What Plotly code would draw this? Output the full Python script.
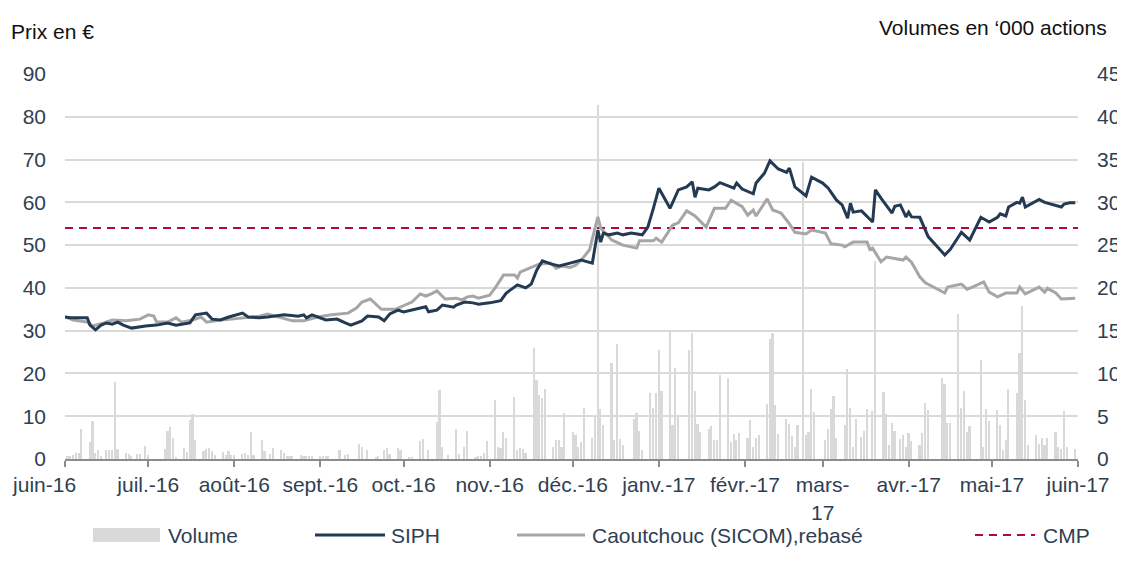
import plotly.graph_objects as go

# ---------------- data ----------------
siph_dates = [
    "2016-06-01","2016-06-03","2016-06-09","2016-06-10","2016-06-12","2016-06-14","2016-06-16","2016-06-18",
    "2016-06-20","2016-06-22","2016-06-25","2016-06-30","2016-07-04","2016-07-08","2016-07-11","2016-07-16",
    "2016-07-18","2016-07-22","2016-07-24","2016-07-27","2016-07-30","2016-08-04","2016-08-06","2016-08-10",
    "2016-08-13","2016-08-19","2016-08-24","2016-08-26","2016-08-27","2016-08-29","2016-09-03","2016-09-07",
    "2016-09-10","2016-09-12","2016-09-16","2016-09-18","2016-09-22","2016-09-24","2016-09-26","2016-09-29",
    "2016-10-01","2016-10-04","2016-10-07","2016-10-09","2016-10-10","2016-10-13","2016-10-15","2016-10-19",
    "2016-10-20","2016-10-23","2016-10-26","2016-10-28","2016-11-01","2016-11-05","2016-11-07","2016-11-11",
    "2016-11-14","2016-11-16","2016-11-18","2016-11-20","2016-11-23","2016-11-26","2016-11-30","2016-12-02",
    "2016-12-04","2016-12-08","2016-12-09","2016-12-10","2016-12-11","2016-12-12","2016-12-14","2016-12-17",
    "2016-12-19","2016-12-22","2016-12-26","2016-12-28","2016-12-30","2017-01-01","2017-01-05","2017-01-06",
    "2017-01-08","2017-01-11","2017-01-13","2017-01-14","2017-01-15","2017-01-19","2017-01-21","2017-01-23",
    "2017-01-28","2017-01-29","2017-01-31","2017-02-04","2017-02-05","2017-02-08","2017-02-10","2017-02-13",
    "2017-02-16","2017-02-17","2017-02-19","2017-02-23","2017-02-25","2017-03-01","2017-03-03","2017-03-06",
    "2017-03-08","2017-03-10","2017-03-11","2017-03-12","2017-03-15","2017-03-19","2017-03-20","2017-03-22",
    "2017-03-26","2017-03-27","2017-03-29","2017-03-31","2017-04-01","2017-04-02","2017-04-05","2017-04-08",
    "2017-04-11","2017-04-14","2017-04-16","2017-04-20","2017-04-23","2017-04-25","2017-04-27","2017-04-30",
    "2017-05-03","2017-05-04","2017-05-06","2017-05-07","2017-05-10","2017-05-11","2017-05-12","2017-05-13",
    "2017-05-16","2017-05-18","2017-05-20","2017-05-26","2017-05-27","2017-05-29","2017-05-31",
]
siph_prices = [
    33.2, 33.0, 33.0, 31.3, 30.2, 31.3, 31.8, 31.5,
    32.0, 31.3, 30.6, 31.1, 31.3, 31.8, 31.3, 31.8,
    33.7, 34.1, 32.7, 32.5, 33.2, 34.1, 33.2, 33.0,
    33.2, 33.7, 33.4, 33.7, 33.0, 33.7, 32.5, 32.7,
    31.8, 31.3, 32.3, 33.4, 33.2, 32.3, 33.9, 34.8,
    34.4, 34.8, 35.3, 35.6, 34.4, 34.8, 36.0, 35.5,
    36.0, 36.7, 36.5, 36.2, 36.5, 37.0, 38.8, 40.7,
    40.0, 40.9, 44.2, 46.3, 45.6, 45.1, 45.8, 46.1,
    46.5, 45.8, 49.6, 53.5, 50.7, 52.8, 52.4, 52.8,
    52.4, 52.8, 52.4, 54.2, 58.6, 63.3, 58.6, 60.0,
    62.9, 63.6, 64.8, 61.2, 63.3, 62.9, 63.6, 64.6,
    63.3, 64.5, 63.1, 62.0, 64.5, 66.8, 69.7, 67.8,
    67.0, 68.0, 63.6, 61.5, 65.9, 64.5, 63.3, 60.5,
    59.4, 56.3, 59.8, 57.7, 58.0, 55.4, 62.9, 61.0,
    57.5, 59.1, 59.4, 56.6, 57.7, 56.6, 56.5, 52.0,
    49.8, 47.7, 49.0, 53.0, 51.2, 54.0, 56.5, 55.4,
    56.5, 57.3, 56.8, 58.9, 60.0, 59.8, 61.2, 58.9,
    60.0, 60.7, 60.0, 58.9, 59.6, 59.9, 59.9,
]

rubber_dates = [
    "2016-06-01","2016-06-04","2016-06-09","2016-06-11","2016-06-15","2016-06-18","2016-06-23","2016-06-28",
    "2016-07-01","2016-07-03","2016-07-04","2016-07-08","2016-07-11","2016-07-13","2016-07-17","2016-07-20",
    "2016-07-22","2016-07-27","2016-07-31","2016-08-05","2016-08-10","2016-08-13","2016-08-17","2016-08-22",
    "2016-08-26","2016-08-31","2016-09-05","2016-09-11","2016-09-14","2016-09-16","2016-09-19","2016-09-21",
    "2016-09-23","2016-09-28","2016-10-01","2016-10-04","2016-10-07","2016-10-09","2016-10-11","2016-10-13",
    "2016-10-16","2016-10-20","2016-10-22","2016-10-24","2016-10-26","2016-10-28","2016-11-01","2016-11-03",
    "2016-11-06","2016-11-10","2016-11-11","2016-11-12","2016-11-16","2016-11-19","2016-11-23","2016-11-25",
    "2016-11-27","2016-11-30","2016-12-02","2016-12-04","2016-12-07","2016-12-10","2016-12-11","2016-12-15",
    "2016-12-19","2016-12-24","2016-12-25","2016-12-30","2016-12-31","2017-01-02","2017-01-06","2017-01-08",
    "2017-01-11","2017-01-14","2017-01-18","2017-01-21","2017-01-25","2017-01-27","2017-01-31","2017-02-02",
    "2017-02-04","2017-02-05","2017-02-09","2017-02-11","2017-02-14","2017-02-17","2017-02-19","2017-02-23",
    "2017-02-25","2017-03-02","2017-03-04","2017-03-08","2017-03-09","2017-03-12","2017-03-17","2017-03-18",
    "2017-03-19","2017-03-22","2017-03-24","2017-03-30","2017-03-31","2017-04-02","2017-04-05","2017-04-07",
    "2017-04-14","2017-04-15","2017-04-20","2017-04-22","2017-04-24","2017-04-28","2017-04-30","2017-05-03",
    "2017-05-06","2017-05-10","2017-05-11","2017-05-13","2017-05-18","2017-05-20","2017-05-21","2017-05-24",
    "2017-05-26","2017-05-31",
]
rubber_prices = [
    33.2, 32.5, 32.0, 31.1, 31.8, 32.5, 32.3, 32.7,
    33.7, 33.4, 32.0, 32.0, 33.0, 32.0, 32.5, 33.2,
    32.0, 32.5, 32.7, 33.0, 33.4, 33.9, 33.2, 32.3,
    32.3, 33.2, 33.7, 34.1, 35.3, 36.7, 37.4, 36.2,
    35.0, 35.0, 35.8, 36.7, 38.6, 38.1, 38.6, 39.3,
    37.4, 37.6, 37.2, 37.9, 38.1, 37.6, 38.3, 40.0,
    43.0, 43.0, 42.3, 43.7, 44.8, 45.6, 45.8, 44.6,
    45.1, 44.8, 45.3, 46.5, 48.9, 56.6, 54.0, 51.2,
    50.0, 49.3, 51.0, 51.0, 51.6, 50.7, 54.7, 55.2,
    58.0, 56.8, 54.2, 58.6, 58.6, 60.5, 59.0, 57.0,
    58.2, 56.8, 60.8, 58.2, 57.5, 55.0, 53.0, 52.6,
    53.5, 52.8, 50.3, 50.0, 49.6, 50.7, 50.7, 49.0,
    49.3, 46.1, 47.2, 46.5, 47.2, 46.0, 42.6, 41.2,
    38.8, 40.2, 40.9, 39.7, 40.2, 41.4, 39.0, 37.9,
    38.8, 38.8, 40.2, 38.6, 40.2, 39.0, 39.9, 38.8,
    37.4, 37.6,
]

volume_dates = [
    "2016-06-02","2016-06-03","2016-06-04","2016-06-05","2016-06-06","2016-06-07","2016-06-10","2016-06-11",
    "2016-06-12","2016-06-13","2016-06-14","2016-06-16","2016-06-17","2016-06-18","2016-06-19","2016-06-20",
    "2016-06-23","2016-06-24","2016-06-25","2016-06-27","2016-06-28","2016-06-30","2016-07-01","2016-07-07",
    "2016-07-08","2016-07-09","2016-07-10","2016-07-11","2016-07-14","2016-07-15","2016-07-16","2016-07-17",
    "2016-07-18","2016-07-21","2016-07-22","2016-07-23","2016-07-24","2016-07-25","2016-07-28","2016-07-29",
    "2016-07-30","2016-07-31","2016-08-01","2016-08-04","2016-08-05","2016-08-06","2016-08-07","2016-08-08",
    "2016-08-11","2016-08-12","2016-08-14","2016-08-15","2016-08-18","2016-08-19","2016-08-20","2016-08-21",
    "2016-08-22","2016-08-25","2016-08-26","2016-08-27","2016-08-28","2016-08-29","2016-09-01","2016-09-02",
    "2016-09-03","2016-09-04","2016-09-08","2016-09-10","2016-09-11","2016-09-15","2016-09-16","2016-09-18",
    "2016-09-21","2016-09-22","2016-09-24","2016-09-25","2016-09-26","2016-09-29","2016-09-30","2016-10-03",
    "2016-10-04","2016-10-07","2016-10-08","2016-10-10","2016-10-13","2016-10-14","2016-10-15","2016-10-17",
    "2016-10-20","2016-10-21","2016-10-23","2016-10-24","2016-10-27","2016-10-28","2016-10-29","2016-10-30",
    "2016-10-31","2016-11-03","2016-11-04","2016-11-05","2016-11-06","2016-11-07","2016-11-10","2016-11-11",
    "2016-11-12","2016-11-13","2016-11-14","2016-11-17","2016-11-18","2016-11-19","2016-11-20","2016-11-21",
    "2016-11-24","2016-11-25","2016-11-26","2016-11-27","2016-11-28","2016-12-01","2016-12-02","2016-12-03",
    "2016-12-04","2016-12-05","2016-12-08","2016-12-09","2016-12-10","2016-12-11","2016-12-12","2016-12-15",
    "2016-12-16","2016-12-17","2016-12-18","2016-12-19","2016-12-23","2016-12-24","2016-12-25","2016-12-26",
    "2016-12-29","2016-12-30","2016-12-31","2017-01-01","2017-01-02","2017-01-05","2017-01-06","2017-01-07",
    "2017-01-08","2017-01-12","2017-01-13","2017-01-14","2017-01-15","2017-01-16","2017-01-19","2017-01-20",
    "2017-01-21","2017-01-22","2017-01-23","2017-01-26","2017-01-27","2017-01-28","2017-01-29","2017-01-30",
    "2017-02-02","2017-02-03","2017-02-04","2017-02-05","2017-02-06","2017-02-09","2017-02-10","2017-02-11",
    "2017-02-12","2017-02-13","2017-02-16","2017-02-17","2017-02-18","2017-02-19","2017-02-20","2017-02-22",
    "2017-02-23","2017-02-24","2017-02-25","2017-02-26","2017-03-02","2017-03-03","2017-03-04","2017-03-05",
    "2017-03-06","2017-03-09","2017-03-10","2017-03-11","2017-03-12","2017-03-13","2017-03-15","2017-03-16",
    "2017-03-17","2017-03-19","2017-03-20","2017-03-23","2017-03-24","2017-03-25","2017-03-26","2017-03-27",
    "2017-03-29","2017-03-30","2017-03-31","2017-04-01","2017-04-02","2017-04-05","2017-04-06","2017-04-07",
    "2017-04-08","2017-04-13","2017-04-14","2017-04-15","2017-04-16","2017-04-19","2017-04-20","2017-04-21",
    "2017-04-22","2017-04-23","2017-04-27","2017-04-28","2017-04-29","2017-04-30","2017-05-03","2017-05-04",
    "2017-05-05","2017-05-06","2017-05-07","2017-05-10","2017-05-11","2017-05-12","2017-05-13","2017-05-14",
    "2017-05-17","2017-05-18","2017-05-19","2017-05-20","2017-05-21","2017-05-24","2017-05-25","2017-05-26",
    "2017-05-27","2017-05-28","2017-05-31",
]
volume_k = [
    0.35, 0.4, 0.5, 0.7, 0.7, 3.5, 2.0, 4.4,
    0.7, 1.0, 0.3, 1.05, 1.05, 1.05, 9.0, 1.2,
    0.7, 0.55, 0.4, 0.6, 0.6, 1.5, 0.5, 1.2,
    3.3, 3.7, 2.5, 0.15, 1.3, 0.8, 4.6, 5.3,
    2.2, 0.9, 1.2, 1.25, 0.9, 0.5, 0.8, 0.5,
    0.9, 0.5, 0.5, 0.6, 0.7, 0.5, 3.2, 0.5,
    2.2, 0.9, 0.6, 1.25, 1.05, 0.65, 0.4, 0.4,
    0.3, 0.45, 0.4, 0.3, 0.4, 0.35, 0.3, 0.4,
    0.3, 0.4, 1.0, 0.45, 0.6, 1.7, 1.45, 1.05,
    0.15, 0.3, 1.05, 1.25, 0.6, 1.25, 1.1, 0.15,
    0.2, 2.1, 2.3, 1.05, 4.3, 8.1, 1.45, 0.45,
    3.5, 0.6, 1.45, 3.3, 0.25, 0.35, 0.4, 0.75,
    2.1, 6.9, 1.45, 1.25, 3.2, 2.4, 7.3, 1.05,
    1.25, 1.15, 0.65, 13.0, 9.2, 7.5, 7.1, 8.2,
    1.45, 2.2, 2.2, 1.45, 5.4, 3.1, 2.8, 1.45,
    1.95, 6.0, 2.4, 4.9, 41.4, 5.9, 4.0, 11.2,
    2.2, 13.5, 2.3, 1.6, 4.7, 5.4, 3.3, 1.05,
    7.7, 6.0, 7.7, 12.7, 8.0, 15.1, 4.0, 10.6,
    5.0, 12.7, 14.7, 7.9, 4.1, 3.2, 3.5, 3.8,
    2.2, 2.2, 9.8, 9.5, 2.0, 2.9, 2.2, 3.0,
    2.4, 4.6, 1.4, 2.4, 2.8, 6.4, 14.0, 14.7,
    6.3, 2.9, 4.7, 4.1, 2.7, 1.4, 4.0, 34.7,
    2.8, 3.1, 8.2, 5.5, 2.2, 3.5, 5.9, 7.4,
    2.5, 4.0, 10.5, 6.0, 1.4, 4.7, 2.6, 3.3,
    5.9, 5.6, 23.2, 7.8, 5.3, 1.6, 4.2, 3.3,
    2.3, 2.8, 1.4, 3.0, 2.1, 1.6, 3.0, 6.6,
    5.7, 9.5, 8.8, 4.2, 4.2, 16.9, 6.0, 7.9,
    3.2, 3.9, 11.6, 1.4, 5.9, 4.4, 5.7, 4.0,
    1.1, 2.2, 8.2, 7.7, 12.4, 17.9, 6.9, 1.6,
    2.8, 1.8, 2.4, 1.6, 2.4, 3.2, 1.4, 1.2,
    5.6, 1.4, 1.2,
]

cmp_value = 54
period = ["2016-06-01", "2017-06-01"]

month_ticks = ["2016-06-01","2016-07-01","2016-08-01","2016-09-01","2016-10-01","2016-11-01",
               "2016-12-01","2017-01-01","2017-02-01","2017-03-01","2017-04-01","2017-05-01","2017-06-01"]
month_labels = ["juin-16","juil.-16","août-16","sept.-16","oct.-16","nov.-16","déc.-16",
                "janv.-17","févr.-17","mars-<br>17","avr.-17","mai-17","juin-17"]

# ---------------- style ----------------
FONT = "Liberation Sans, Arial, sans-serif"
TICK_COLOR = "#2f3f52"
NAVY = "#233a52"
GREY = "#a6a6a6"
BAR = "#d9d9d9"
RED = "#b5073f"
FS = 21

# page geometry: the page body places the figure 8px from the top-left corner
OFF = 8
W, H = 1125, 563
L, R, T, B = 65, 1078, 74, 459   # plot area in page pixels


def px(x):
    return (x - L) / (R - L)


def py(y):
    return (B - y) / (B - T)


# first label nudged left to stay inside the figure (as in the original)
tick_text = list(month_labels)
tick_text[0] = month_labels[0] + "\u00a0" * 7

fig = go.Figure()

fig.add_trace(go.Bar(
    x=volume_dates, y=volume_k, yaxis="y", marker=dict(color=BAR, line=dict(width=0)),
    width=0.6 * 86400000, name="Volume", showlegend=False,
))
fig.add_trace(go.Scatter(
    x=period, y=[cmp_value, cmp_value], yaxis="y2", mode="lines",
    line=dict(color=RED, width=2.2, dash="8px,6px"), name="CMP", showlegend=False,
))
fig.add_trace(go.Scatter(
    x=rubber_dates, y=rubber_prices, yaxis="y2", mode="lines",
    line=dict(color=GREY, width=3), name="Caoutchouc (SICOM),rebasé", showlegend=False,
))
fig.add_trace(go.Scatter(
    x=siph_dates, y=siph_prices, yaxis="y2", mode="lines",
    line=dict(color=NAVY, width=3), name="SIPH", showlegend=False,
))

shapes = []
annotations = []

# manual legend
leg_y = 535
shapes.append(dict(type="rect", xref="paper", yref="paper", x0=px(93), x1=px(160),
                   y0=py(leg_y + 7), y1=py(leg_y - 7), fillcolor=BAR, line=dict(width=0)))
shapes.append(dict(type="line", xref="paper", yref="paper", x0=px(315), x1=px(385),
                   y0=py(leg_y), y1=py(leg_y), line=dict(color=NAVY, width=3)))
shapes.append(dict(type="line", xref="paper", yref="paper", x0=px(517), x1=px(585),
                   y0=py(leg_y), y1=py(leg_y), line=dict(color=GREY, width=3)))
shapes.append(dict(type="line", xref="paper", yref="paper", x0=px(975), x1=px(1035),
                   y0=py(leg_y), y1=py(leg_y), line=dict(color=RED, width=2.2, dash="8px,6px")))
for xx, txt in [(166, "Volume"), (389, "SIPH"), (590, "Caoutchouc (SICOM),rebasé"), (1041, "CMP")]:
    annotations.append(dict(x=px(xx), y=py(leg_y), xref="paper", yref="paper", text=txt,
                            showarrow=False, xanchor="left", yanchor="middle",
                            font=dict(family=FONT, size=FS, color=TICK_COLOR)))

annotations.append(dict(x=px(9), y=py(32), xref="paper", yref="paper", text="Prix en €",
                        showarrow=False, xanchor="left", yanchor="middle",
                        font=dict(family=FONT, size=FS, color="#111111")))
annotations.append(dict(x=px(1109), y=py(28), xref="paper", yref="paper", text="Volumes en ‘000 actions",
                        showarrow=False, xanchor="right", yanchor="middle",
                        font=dict(family=FONT, size=FS, color="#111111")))

fig.update_layout(
    width=W, height=H,
    margin=dict(l=L - OFF, r=(OFF + W) - R, t=T - OFF, b=(OFF + H) - B, pad=0),
    paper_bgcolor="white", plot_bgcolor="white",
    bargap=0,
    showlegend=False,
    font=dict(family=FONT, size=FS, color=TICK_COLOR),
    xaxis=dict(
        type="date", range=period, tickmode="array", tickvals=month_ticks, ticktext=tick_text,
        tickangle=0,
        showgrid=False, showline=True, linecolor="#8c8c8c", linewidth=2, automargin=False,
        ticks="outside", ticklen=6, tickwidth=1.5, tickcolor="#8c8c8c",
        tickfont=dict(family=FONT, size=FS, color=TICK_COLOR), zeroline=False,
    ),
    yaxis=dict(
        side="right", range=[0, 45], dtick=5, tick0=0, showgrid=True, gridcolor="#d9d9d9", gridwidth=1.5,
        zeroline=False, showline=False, ticks="", ticklabelstandoff=18, automargin=False,
        tickfont=dict(family=FONT, size=FS, color=TICK_COLOR),
    ),
    yaxis2=dict(
        side="left", overlaying="y", range=[0, 90], dtick=10, tick0=0, showgrid=False,
        zeroline=False, showline=False, ticks="", ticklabelstandoff=18, automargin=False,
        tickfont=dict(family=FONT, size=FS, color=TICK_COLOR),
    ),
    shapes=shapes,
    annotations=annotations,
)

fig.write_html("out.html")
